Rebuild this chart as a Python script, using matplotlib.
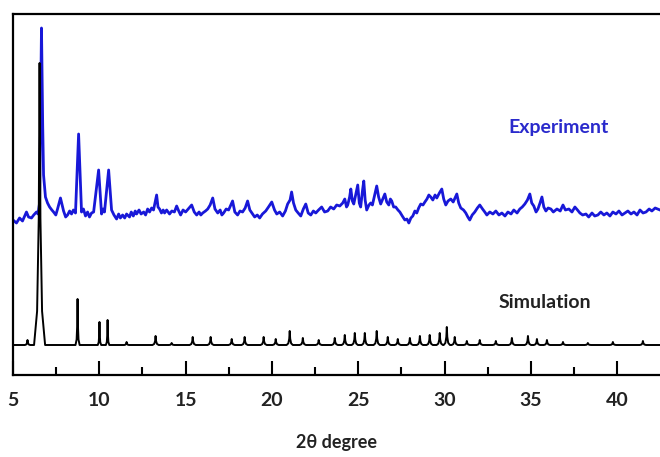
import numpy as np
import matplotlib
matplotlib.use('Agg')
import matplotlib.pyplot as plt
from matplotlib.ticker import MultipleLocator

EXP_2THETA = [
    5.00, 5.20, 5.38, 5.55, 5.78, 5.90, 6.07, 6.20, 6.36, 6.45, 6.54, 6.65, 6.72, 6.77,
    6.88, 7.00, 7.12, 7.25, 7.35, 7.48, 7.58, 7.75, 7.85, 7.93, 8.05, 8.16, 8.28, 8.39,
    8.50, 8.62, 8.80, 8.97, 9.08, 9.20, 9.32, 9.43, 9.55, 9.67, 9.96, 10.13, 10.22,
    10.30, 10.54, 10.71, 10.85, 11.00, 11.12, 11.22, 11.35, 11.47, 11.58, 11.75, 11.85,
    11.97, 12.08, 12.16, 12.30, 12.42, 12.57, 12.68, 12.80, 12.91, 13.03, 13.14, 13.32,
    13.40, 13.49, 13.60, 13.70, 13.78, 13.90, 14.07, 14.20, 14.35, 14.48, 14.60, 14.71,
    14.85, 15.00, 15.15, 15.35, 15.50, 15.64, 15.78, 15.88, 15.99, 16.15, 16.28, 16.42,
    16.57, 16.70, 16.86, 17.00, 17.10, 17.20, 17.35, 17.49, 17.62, 17.72, 17.85, 18.01,
    18.15, 18.30, 18.45, 18.59, 18.72, 18.88, 19.00, 19.15, 19.29, 19.45, 19.64, 19.80,
    19.99, 20.15, 20.28, 20.45, 20.62, 20.78, 20.91, 21.05, 21.14, 21.25, 21.38, 21.52,
    21.67, 21.82, 21.96, 22.10, 22.25, 22.40, 22.54, 22.70, 22.88, 23.05, 23.23, 23.40,
    23.58, 23.75, 23.93, 24.10, 24.22, 24.32, 24.39, 24.50, 24.57, 24.66, 24.74, 24.85,
    24.97, 25.06, 25.14, 25.25, 25.32, 25.40, 25.49, 25.62, 25.72, 25.82, 25.90, 26.07,
    26.18, 26.30, 26.42, 26.54, 26.65, 26.77, 26.86, 26.94, 27.05, 27.17, 27.30, 27.41,
    27.55, 27.70, 27.82, 27.93, 28.05, 28.16, 28.28, 28.39, 28.50, 28.62, 28.75, 28.86,
    28.98, 29.09, 29.20, 29.32, 29.45, 29.55, 29.70, 29.84, 29.95, 30.07, 30.20, 30.36,
    30.50, 30.71, 30.82, 30.94, 31.10, 31.23, 31.35, 31.46, 31.60, 31.75, 31.90, 32.04,
    32.20, 32.33, 32.45, 32.62, 32.80, 32.97, 33.15, 33.32, 33.50, 33.67, 33.85, 34.01,
    34.20, 34.36, 34.50, 34.65, 34.80, 34.94, 35.05, 35.17, 35.30, 35.41, 35.53, 35.64,
    35.75, 35.87, 36.00, 36.16, 36.30, 36.51, 36.70, 36.86, 37.00, 37.20, 37.38, 37.55,
    37.70, 37.84, 38.00, 38.19, 38.35, 38.54, 38.70, 38.88, 39.05, 39.23, 39.40, 39.58,
    39.75, 39.93, 40.10, 40.28, 40.45, 40.62, 40.80, 40.97, 41.15, 41.32, 41.50, 41.67,
    41.85, 42.01, 42.20, 42.48,
]
EXP_INT = [
    155, 152, 157, 154, 163, 158, 157, 160, 163, 161, 172, 347, 250, 200,
    178, 172, 168, 165, 163, 160, 166, 177, 170, 164, 158, 160, 164, 161,
    165, 162, 241, 163, 166, 159, 163, 158, 162, 163, 205, 161, 166,
    163, 205, 165, 160, 156, 161, 157, 160, 157, 161, 158, 163,
    159, 164, 161, 165, 161, 163, 160, 166, 163, 167, 165, 180,
    168, 166, 162, 165, 162, 165, 161, 164, 163, 169, 164, 160,
    165, 163, 166, 170, 163, 160, 163, 160, 162, 164, 166, 170,
    177, 166, 162, 165, 160, 162, 166, 165, 170, 174, 163, 160,
    164, 163, 167, 174, 165, 161, 158, 160, 157, 161, 164, 168,
    173, 165, 161, 163, 159, 164, 171, 175, 183, 172, 165, 162,
    159, 166, 171, 162, 160, 164, 162, 165, 168, 163, 164, 168,
    166, 170, 169, 172, 176, 168, 170, 178, 186, 174, 171, 180,
    190, 172, 168, 185, 194, 175, 165, 170, 172, 170, 176, 189,
    178, 171, 176, 181, 173, 170, 176, 174, 168, 168, 165, 163,
    159, 155, 156, 152, 157, 159, 164, 162, 167, 171, 170, 173,
    176, 180, 178, 175, 180, 177, 182, 186, 176, 170, 174, 176,
    173, 181, 172, 167, 165, 162, 158, 155, 160, 163, 167, 170,
    166, 163, 160, 163, 161, 164, 160, 162, 159, 163, 161, 165,
    162, 166, 168, 171, 175, 181, 172, 169, 163, 166, 172, 178,
    168, 164, 167, 166, 163, 166, 164, 170, 165, 166, 163, 168,
    165, 162, 160, 161, 158, 162, 159, 160, 163, 160, 162, 159,
    163, 161, 164, 160, 162, 164, 161, 163, 160, 165, 162, 163,
    166, 164, 167, 165,
]

# Simulated pattern: peak positions, intensities and base half-widths
SIM_BASE = 30
SIM_POS = [5.84, 6.54, 8.74, 10.01, 10.48, 11.58, 13.26, 14.19, 15.41, 16.45, 17.67,
           18.42, 19.52, 20.22, 21.03, 21.79, 22.71, 23.64, 24.22, 24.80, 25.38, 26.07,
           26.71, 27.29, 27.99, 28.57, 29.14, 29.72, 30.13, 30.59, 31.29, 32.04, 32.97,
           33.90, 34.83, 35.35, 35.93, 36.86, 38.30, 39.75, 41.49]
SIM_INT = [35, 312, 76, 53, 55, 33, 39, 32, 38, 38, 36,
           38, 38, 36, 44, 37, 35, 37, 40, 42, 42, 44,
           38, 36, 37, 39, 40, 42, 48, 38, 34, 35, 34,
           37, 39, 36, 35, 33, 32, 33, 34]
SIM_HW = [0.15, 0.32, 0.12, 0.1, 0.1, 0.14, 0.18, 0.16, 0.18, 0.18, 0.18,
          0.18, 0.18, 0.18, 0.18, 0.18, 0.18, 0.18, 0.18, 0.18, 0.18, 0.18,
          0.18, 0.18, 0.18, 0.18, 0.18, 0.18, 0.18, 0.18, 0.18, 0.18, 0.18,
          0.18, 0.18, 0.18, 0.18, 0.18, 0.18, 0.18, 0.18]

XMIN, XMAX = 5, 42.48

# polyline for the simulated peaks (steep top, rounded foot)
sim_x = [XMIN]
sim_y = [SIM_BASE]
for p, h, w in zip(SIM_POS, SIM_INT, SIM_HW):
    sim_x += [p - w, p - w * 0.45, p - w * 0.15, p, p + w * 0.15, p + w * 0.45, p + w]
    sim_y += [SIM_BASE, SIM_BASE + (h - SIM_BASE) * 0.12, SIM_BASE + (h - SIM_BASE) * 0.45,
              h, SIM_BASE + (h - SIM_BASE) * 0.45, SIM_BASE + (h - SIM_BASE) * 0.12, SIM_BASE]
sim_x.append(XMAX)
sim_y.append(SIM_BASE)

plt.rcParams['font.family'] = ['Lato', 'DejaVu Sans']

fig = plt.figure(figsize=(6.6, 4.57), dpi=100)
ax = fig.add_axes([13 / 660, 82 / 457, 647 / 660, 361 / 457])

ax.plot(EXP_2THETA, EXP_INT, color='#1818d8', linewidth=2.0)
ax.plot(sim_x, sim_y, color='black', linewidth=1.4)

ax.text(0.843, 0.685, 'Experiment', transform=ax.transAxes, color='#2a2acc',
        fontsize=14, fontweight='bold', ha='center', va='center')
ax.text(0.822, 0.202, 'Simulation', transform=ax.transAxes, color='#222222',
        fontsize=14, fontweight='bold', ha='center', va='center')

ax.set_xlim(XMIN, XMAX)
ax.set_ylim(0, 361)
ax.xaxis.set_major_locator(MultipleLocator(5))
ax.xaxis.set_minor_locator(MultipleLocator(2.5))
ax.tick_params(axis='x', which='major', direction='in', length=10, width=1.5,
               labelsize=14, pad=12)
ax.tick_params(axis='x', which='minor', direction='in', length=5.5, width=1.5)
ax.set_yticks([])
for lab in ax.get_xticklabels():
    lab.set_fontweight('bold')
    lab.set_color('#222222')

for side in ['left', 'top', 'bottom']:
    ax.spines[side].set_linewidth(1.6)
ax.spines['right'].set_visible(False)

ax.set_xlabel('2θ degree', fontsize=13, fontweight='bold', color='#222222', labelpad=18)

fig.savefig('out.png', dpi=100)
